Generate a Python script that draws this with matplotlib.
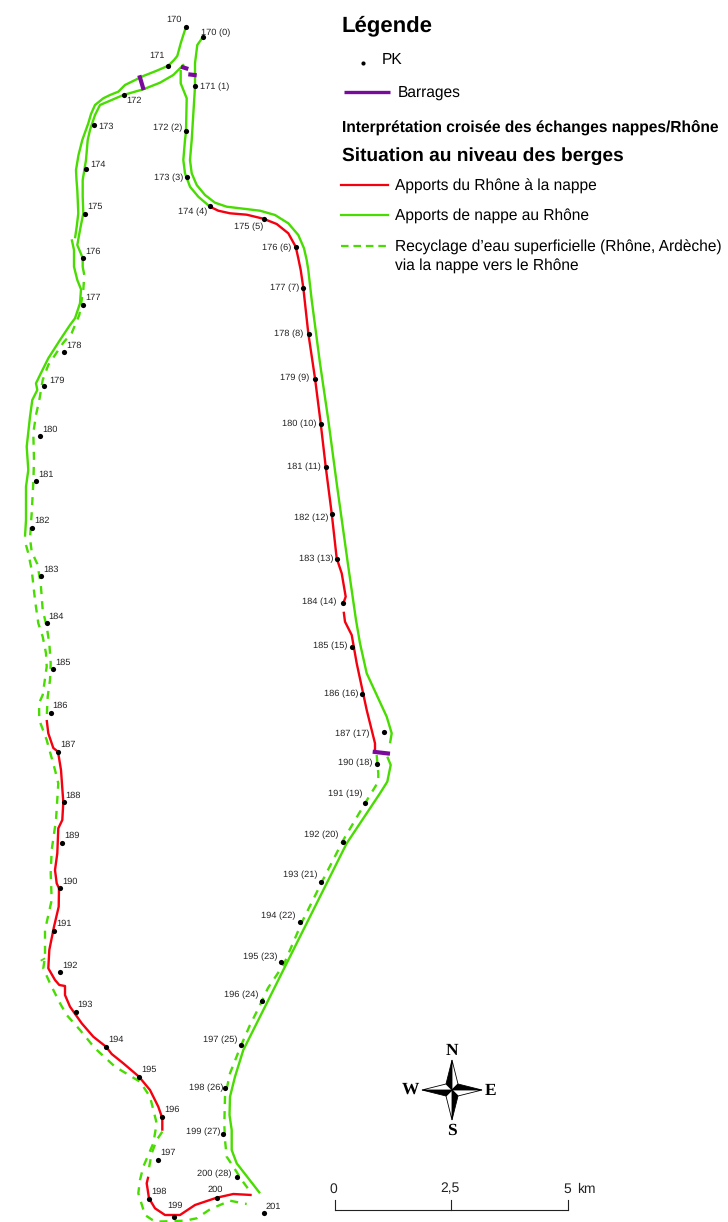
import matplotlib
matplotlib.use('Agg')
import numpy as np
import matplotlib.pyplot as plt

plt.rcParams['font.family'] = ['Liberation Sans', 'DejaVu Sans']
plt.rcParams['text.hinting'] = 'none'

RED = '#f5000f'
GREEN = '#48dc00'
PURPLE = '#7a0a9c'

# --- PK points, map pixel coordinates ---
pk_west_names = [str(k) for k in range(170, 202)]
pk_west_x = [185.5, 168, 123.5, 94, 85.5, 85, 83, 83, 64, 44, 39.5, 36, 32, 40.5, 46.5, 53,
             50.5, 58, 63.5, 62, 59.5, 54, 59.5, 75.5, 106, 139, 162, 158, 149, 174, 216.5, 263.5]
pk_west_y = [26.5, 66, 95, 125, 168.5, 213.5, 258, 305, 352, 386, 436, 481, 527.5, 576, 623, 669,
             712.5, 752, 802, 843, 888, 931, 972, 1011.5, 1047, 1077, 1117, 1160, 1199, 1217, 1197.5, 1213]
pk_west_lx = [174.3, 157.3, 133.7, 106, 98.3, 95.3, 92.7, 93, 74, 56.7, 49.7, 45.7, 41.7, 50.7, 56.3, 63,
              60.3, 68, 73.3, 72, 69.7, 63.7, 69.7, 85, 115.7, 149, 172, 167.7, 159, 175.3, 215.3, 273.3]
pk_west_ly = [20, 55.7, 100.7, 126.7, 165, 206.7, 251.7, 297.7, 345.3, 380.3, 429.3, 474.3, 520.7, 569.3, 616.3, 662.7,
              705.3, 744.3, 795.3, 836, 881.3, 923.7, 965.3, 1004.3, 1040, 1069.7, 1109.3, 1153, 1191.7, 1205.7, 1189.3, 1206.7]

pk_east_names = ['170 (0)', '171 (1)', '172 (2)', '173 (3)', '174 (4)', '175 (5)', '176 (6)', '177 (7)',
                 '178 (8)', '179 (9)', '180 (10)', '181 (11)', '182 (12)', '183 (13)', '184 (14)', '185 (15)',
                 '186 (16)', '187 (17)', '190 (18)', '191 (19)', '192 (20)', '193 (21)', '194 (22)', '195 (23)',
                 '196 (24)', '197 (25)', '198 (26)', '199 (27)', '200 (28)']
pk_east_x = [203, 195, 185.5, 186.5, 210, 264, 296, 303, 308.5, 315, 321, 325.5, 332, 337, 343, 351.5,
             362, 384, 376.5, 365, 342.5, 320.5, 300, 281, 262, 240.5, 225, 222.5, 237]
pk_east_y = [37, 86, 131, 177, 206, 219, 247, 288, 333.5, 378.5, 424, 467, 514, 559, 603, 647,
             694, 732, 763.5, 802.5, 841.5, 881.5, 922, 962, 1001, 1045, 1088, 1133.5, 1177]
pk_east_lx = [215.3, 214.3, 167.7, 168.3, 193, 249, 277, 284.3, 289, 294.7, 299.3, 303.7, 311, 316.3, 319, 330,
              341.7, 352.3, 355.3, 345.7, 321.3, 300.3, 278.7, 260, 241, 220, 206, 203.3, 214]
pk_east_ly = [32.7, 87, 128, 177.7, 212, 227, 248.3, 287.7, 333.7, 378.3, 423.7, 467, 518, 558.7, 602.3, 646,
              693.7, 733.7, 763.3, 794.3, 835.3, 874.7, 916, 956.7, 995.3, 1040, 1087.7, 1132.3, 1174.3]

# --- bank traces ---
solid_green = [
    [(186, 26.7), (180.7, 43.3), (177.3, 56), (174, 60), (168.3, 65.7), (156, 71), (143.3, 76), (125, 85), (118.3, 91.7),
     (110, 95), (103.3, 98.3), (95, 105), (91, 114), (88.3, 123.3), (82.3, 140), (78.5, 155), (76, 170), (76.5, 180),
     (77.3, 190), (78.3, 213.3), (76.7, 226.7), (75, 238.3)],
    [(184, 64.3), (173.3, 75), (160, 82.7), (143.3, 89.3), (123.3, 95), (110, 100.7), (100, 105), (95, 115), (90, 130),
     (87.7, 140), (86, 160), (82.7, 180), (82.7, 196.7), (83.3, 213.3), (80, 230), (77.3, 245), (82.7, 258), (82.7, 267)],
    [(71.7, 239.3), (74, 250), (74, 266.7), (77.3, 280), (81, 289.3), (80, 303.3), (75, 318.3), (70, 325), (60, 340),
     (48.3, 358.3), (40, 375), (36, 383.3), (37.3, 390), (32.3, 400), (30, 416.7), (26.7, 446.7), (28.3, 470),
     (26, 486.7), (26, 520), (25, 536.7)],
    [(202.7, 37.3), (197.3, 45), (195, 63.3), (195, 86.7), (191.7, 140), (190, 160), (191.7, 173.3), (196.7, 185), (205, 195),
     (215, 202.7), (226.7, 206.7), (243.3, 208.7), (260, 210.7), (275, 215), (288.3, 223.3), (298.3, 235), (304, 248.3),
     (306.7, 260), (308.3, 270), (311.7, 300), (320, 363.3), (328.3, 420), (336.7, 483.3), (348.3, 566.7), (356, 620),
     (360, 643.3), (366.7, 673.3), (376.7, 695), (386.7, 716.7), (391.7, 733.3), (390, 743.3)],
    [(387.3, 756.7), (390.7, 765), (387.3, 781.7), (380, 793.3), (346.7, 843.3), (308.3, 920), (293.3, 950),
     (270, 996.7), (243.3, 1050), (235, 1076.7), (230, 1096.7), (229.5, 1115), (231.7, 1130), (231.7, 1150),
     (236.7, 1163.3), (260, 1193.3)],
    [(180.7, 70), (180.7, 83.3), (186.7, 98.3), (186, 131.7), (185, 140), (183.3, 160), (185, 173.3), (190, 186.7),
     (198.3, 196.7), (210, 206.7)],
]

dashed_green = [
    [(82.7, 267), (84.3, 275), (83.3, 290), (79.3, 315), (71.7, 333), (63.3, 342.7), (48.3, 365), (42.7, 380), (39.3, 400),
     (36, 415), (33.3, 433), (34, 460), (33.3, 483), (31.7, 513), (30, 538.3), (31.7, 551.7), (37.3, 564), (40.7, 583.3),
     (42.7, 610), (46.7, 626.7), (49.3, 643.3), (50.7, 663.3), (50, 680), (47.7, 696.7), (46.7, 718.3)],
    [(26, 545), (28.3, 553.3), (31.7, 570), (35, 600), (38.3, 623.3), (42.7, 636.7), (46, 653.3), (46.7, 666.7), (42.7, 695),
     (39, 703.3), (39.3, 720), (46.7, 740), (55, 770), (58.3, 783.3), (56, 820), (51.7, 850), (50.7, 873.3), (51.7, 900),
     (45, 930), (45, 956.7), (43.3, 968.3), (50, 983.3), (60, 1003.3), (66.7, 1015), (80, 1030), (95, 1048.3), (115, 1066.7),
     (140, 1081.7), (150, 1096.7), (156.7, 1123.3), (153.3, 1143.3), (143.3, 1166.7), (140, 1180), (138.3, 1193.3),
     (145, 1215), (155, 1221.7), (185, 1220.7), (196.7, 1218.3), (210, 1209.3), (230, 1200.7), (246.7, 1204)],
    [(162.3, 1131.7), (156.7, 1140), (151.7, 1153.3), (148.3, 1171.7)],
    [(376.7, 755), (378.3, 773.3), (378.3, 781.7), (365, 803.3), (343.3, 840), (322, 881.7), (302, 922), (284, 964),
     (268, 988), (256.7, 1011.7), (250, 1025), (240, 1048), (230, 1073.3), (225, 1096.7), (224.3, 1125), (225, 1140),
     (226.7, 1156.7), (233.3, 1166.7), (241.7, 1180), (251, 1192.7)],
]

green_tick = [(40.7, 960.7), (45, 958.3)]

solid_red = [
    [(46.7, 720), (48.3, 733.3), (53.3, 748), (58, 751.7), (61, 770), (63.3, 802.3), (62.3, 820), (58.3, 828.3), (57.3, 853.3),
     (55, 870), (56.7, 883.3), (59, 888.3), (58.7, 906.7), (54, 926.7), (49.3, 950), (48.3, 968.3), (55, 980), (59.3, 985),
     (65, 986), (65, 995), (70, 1006.7), (81.7, 1023.3), (93.3, 1036.7), (106, 1046.7), (111.7, 1054), (123.3, 1063.3),
     (139, 1076.7), (150, 1090), (158.3, 1106.7), (162.3, 1118.3), (162.3, 1130.7)],
    [(148.3, 1176.7), (146.7, 1183.3), (149, 1198.3), (155, 1208.3), (165, 1215), (180, 1215), (195, 1205),
     (216.7, 1197.7), (233.3, 1194), (251.7, 1195)],
    [(210, 206.7), (218.3, 210.7), (230, 213.3), (246.7, 214.7), (263.3, 218.7), (276.7, 224), (288.3, 233.3), (295.7, 246.7),
     (298.3, 258.3), (300.7, 270), (303.3, 287.7), (308.3, 333.3), (315, 378.3), (320.7, 423.3), (325.7, 466.7), (331.7, 513.3),
     (336.7, 558.3), (341.7, 573.3), (345.7, 596.7), (343.3, 603.3)],
    [(343.7, 611.7), (345, 621.7), (351.7, 635), (356.7, 663.3), (366.7, 710), (375, 743.3), (375, 751.7)],
]

barrages = [
    [(139.3, 75.3), (143.7, 90)],
    [(181, 66.7), (188.3, 69)],
    [(188.3, 74.3), (196.7, 75.3)],
    [(372.7, 751.7), (390, 753.7)],
]

scale_ticks = [334.7, 451, 568]
scale_labels = ['0', '2,5', '5']


def draw_trace(ax, pts, **kw):
    arr = np.array(pts)
    ax.plot(arr[:, 0], arr[:, 1], solid_capstyle='butt', solid_joinstyle='round', **kw)


fig = plt.figure(figsize=(7.28, 12.22), dpi=100, facecolor='white')
ax = fig.add_axes([0, 0, 1, 1])
ax.set_xlim(0, 728)
ax.set_ylim(1222, 0)
ax.axis('off')

for trace in solid_green:
    draw_trace(ax, trace, color=GREEN, lw=1.7)
for trace in dashed_green:
    draw_trace(ax, trace, color=GREEN, lw=1.7, linestyle=(0, (3.4, 3.0)))
draw_trace(ax, green_tick, color=GREEN, lw=1.3)
for trace in solid_red:
    draw_trace(ax, trace, color=RED, lw=1.7)
for trace in barrages:
    draw_trace(ax, trace, color=PURPLE, lw=3.0)

ax.scatter(pk_west_x, pk_west_y, s=14, color='black', linewidths=0, zorder=5)
ax.scatter(pk_east_x, pk_east_y, s=14, color='black', linewidths=0, zorder=5)
for name, lx, ly in zip(pk_west_names, pk_west_lx, pk_west_ly):
    ax.text(lx, ly, name, fontsize=6.7, color='#222222', ha='center', va='center')
for name, lx, ly in zip(pk_east_names, pk_east_lx, pk_east_ly):
    ax.text(lx, ly, name, fontsize=6.7, color='#222222', ha='center', va='center')

# legend block
ax.text(342, 26, 'Légende', fontsize=15.9, fontweight='bold', va='center')
ax.scatter([363.3], [62.7], s=9, color='black', linewidths=0)
ax.text(382, 60, 'PK', fontsize=11.2, va='center')
ax.plot([344, 390], [91.7, 91.7], color=PURPLE, lw=2.4, solid_capstyle='butt')
ax.text(398, 93, 'Barrages', fontsize=11.2, va='center')
ax.text(342, 128, 'Interprétation croisée des échanges nappes/Rhône', fontsize=11.2, fontweight='bold', va='center')
ax.text(342, 156, 'Situation au niveau des berges', fontsize=13.8, fontweight='bold', va='center')
ax.plot([341, 388], [185, 185], color=RED, lw=1.6)
ax.text(395, 186, 'Apports du Rhône à la nappe', fontsize=11.2, va='center')
ax.plot([341, 388], [215, 215], color=GREEN, lw=1.6)
ax.text(395, 216, 'Apports de nappe au Rhône', fontsize=11.2, va='center')
ax.plot([341, 388], [246, 246], color=GREEN, lw=1.6, linestyle=(0, (3.4, 2.2)))
ax.text(395, 247, 'Recyclage d’eau superficielle (Rhône, Ardèche)', fontsize=11.2, va='center')
ax.text(395, 266, 'via la nappe vers le Rhône', fontsize=11.2, va='center')

# compass
cx, cy = 452, 1090
tips = [(0, -30), (30, 0), (0, 30), (-30, 0)]
waist = [(-6, -6), (6, -6), (6, 6), (-6, 6)]
for i, (tx, ty) in enumerate(tips):
    wl = waist[i]
    wr = waist[(i + 1) % 4]
    ax.fill([cx, cx + tx, cx + wl[0]], [cy, cy + ty, cy + wl[1]], facecolor='black', edgecolor='black', lw=0.6)
    ax.fill([cx, cx + tx, cx + wr[0]], [cy, cy + ty, cy + wr[1]], facecolor='white', edgecolor='black', lw=0.6)
for letter, tx, ty in [('N', 452, 1051), ('S', 452, 1131), ('W', 410, 1090), ('E', 490.5, 1091)]:
    ax.text(tx, ty, letter, family=['Liberation Serif'], fontweight='bold', fontsize=12.5, ha='center', va='center')

# scale bar
ax.plot([scale_ticks[0], scale_ticks[-1]], [1210, 1210], color='#222222', lw=0.8)
for tick, lab in zip(scale_ticks, scale_labels):
    ax.plot([tick, tick], [1200, 1210], color='#222222', lw=0.8)
    ax.text(tick - 1, 1189, lab, fontsize=10, ha='center', va='center', color='#222222')
ax.text(577, 1189, 'km', fontsize=10, va='center', color='#222222')

fig.savefig('out.png', dpi=100)
